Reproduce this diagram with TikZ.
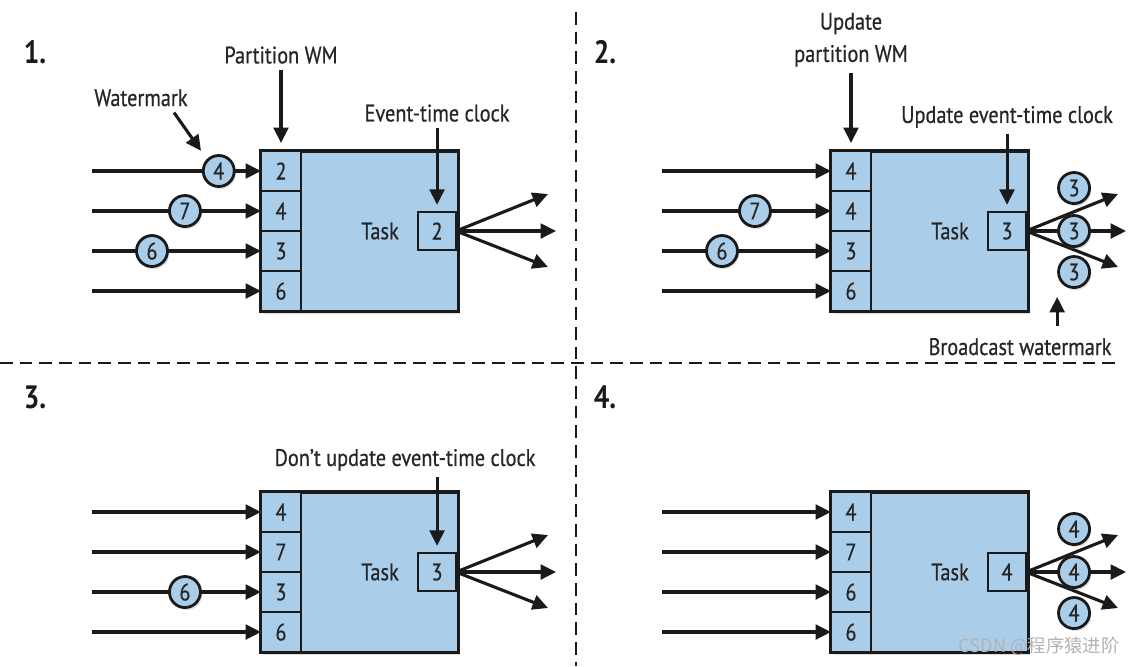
\documentclass[tikz,border=0pt]{standalone}
\usepackage{fontspec}
\setmainfont{PT Sans}[FakeStretch=0.85,UprightFeatures={FakeBold=0.6}]
\newfontfamily\cjk{Noto Sans CJK SC}
\usetikzlibrary{arrows.meta,positioning,calc,shadows}
\definecolor{taskblue}{HTML}{AACDEA}
\definecolor{ink}{HTML}{1A1A1A}
\definecolor{txt}{HTML}{262626}

\begin{document}
\begin{tikzpicture}[x=0.025cm,y=-0.025cm,
  font=\fontsize{17}{23}\selectfont,
  shade/.style={drop shadow={shadow xshift=1.2pt,shadow yshift=-1.8pt,opacity=0.25}},
  taskbox/.style={draw=ink,line width=2.2pt,fill=taskblue,minimum width=4.925cm,minimum height=4cm,outer sep=0pt,shade},
  part/.style={draw=ink,line width=2pt,fill=taskblue,minimum width=1cm,minimum height=1cm,inner sep=0pt,outer sep=0pt,text=txt},
  clockbox/.style={part,minimum width=0.95cm,minimum height=0.95cm},
  wm/.style={circle,draw=ink,line width=2pt,fill=taskblue,minimum size=0.775cm,inner sep=0pt,text=txt,shade},
  lbl/.style={inner sep=0pt,text=txt,align=center},
  num/.style={font=\fontsize{23}{26}\selectfont\bfseries,text=ink},
  flow/.style={draw=ink,line width=2.2pt,-{Triangle[length=11pt,width=10.5pt]}},
  sep/.style={draw=ink,line width=2.1pt,dash pattern=on 9pt off 5pt}]

\useasboundingbox (0,0) rectangle (1140,666);

\draw[sep] (0,363) -- (1118,363);
\draw[sep] (576,12) -- (576,666);

% 1.
\begin{scope}
\node[num] (n1) at (35,52) {1.};
\node[taskbox,anchor=north west] (task) at (261,151) {};
\node[part,below right=0cm and 0cm of task.north west] (p1) {2};
\foreach \v [count=\i from 2] in {4,3,6}{
\pgfmathtruncatemacro\j{\i-1}
\node[part,below=0cm of p\j] (p\i) {\v};
}
\node[clockbox,left=0.05cm of task.east] (clock) {2};
\node[lbl,left=0.475cm of clock] (tl) {Task};

\coordinate (in) at (92,0);
\foreach \i in {1,...,4} \draw[flow] (in |- p\i.west) -- (p\i.west);
\node[wm] (w1) at ($(in |- p1.west)!.75!(p1.west)$) {4};
\node[wm] (w2) at ($(in |- p2.west)!.55!(p2.west)$) {7};
\node[wm] (w3) at ($(in |- p3.west)!.355!(p3.west)$) {6};

\path (clock.east) ++(92,-37) coordinate (o1) ++(8,37) coordinate (o2) ++(-8,36) coordinate (o3);
\foreach \o in {o1,o2,o3} \draw[flow] (clock.east) -- (\o);

\node[lbl,above=2.175cm of p1] (pwm) {Partition WM};
\draw[flow,shorten <=0.15cm,shorten >=0.2cm] (pwm) -- (p1);
\node[lbl,above=2.25cm of clock] (ecl) {Event-time clock};
\draw[flow,shorten <=0.15cm,shorten >=0.18cm] (ecl) -- (clock);
\node[lbl,anchor=base] (wml) at (141,106) {Watermark};
\draw[flow,shorten >=0.25cm] ($(wml.south)+(33,6)$) -- (w1.north west);
\end{scope}

% 2.
\begin{scope}[shift={(570,0)}]
\node[num] (n2) at (35,52) {2.};
\node[taskbox,anchor=north west] (task) at (261,151) {};
\node[part,below right=0cm and 0cm of task.north west] (p1) {4};
\foreach \v [count=\i from 2] in {4,3,6}{
\pgfmathtruncatemacro\j{\i-1}
\node[part,below=0cm of p\j] (p\i) {\v};
}
\node[clockbox,left=0.05cm of task.east] (clock) {3};
\node[lbl,left=0.475cm of clock] (tl) {Task};

\coordinate (in) at (92,0);
\foreach \i in {1,...,4} \draw[flow] (in |- p\i.west) -- (p\i.west);
\node[wm] (w2) at ($(in |- p2.west)!.55!(p2.west)$) {7};
\node[wm] (w3) at ($(in |- p3.west)!.355!(p3.west)$) {6};

\path (clock.east) ++(92,-37) coordinate (o1) ++(8,37) coordinate (o2) ++(-8,36) coordinate (o3);
\foreach \o in {o1,o2,o3} \draw[flow] (clock.east) -- (\o);
\node[wm] (b1) at ($(clock.east)+(48,-43)$) {3};
\node[wm] (b2) at ($(clock.east)+(48,0)$) {3};
\node[wm] (b3) at ($(clock.east)+(48,41)$) {3};

\node[lbl,above=2.1cm of p1] (pwm) {Update\\partition WM};
\draw[flow,shorten <=0.15cm,shorten >=0.2cm] (pwm) -- (p1);
\node[lbl,above=2.1cm of clock] (ecl) {Update event-time clock};
\draw[flow,shorten <=0.15cm,shorten >=0.18cm] (ecl) -- (clock);
\node[lbl,anchor=base] (bc) at (450,355) {Broadcast watermark};
\draw[flow,shorten <=0.3cm,shorten >=0.2cm] (b3.west |- bc.north) -- (b3.west |- b3.south);
\end{scope}

% 3.
\begin{scope}[shift={(0,341)}]
\node[num] (n3) at (35,56) {3.};
\node[taskbox,anchor=north west] (task) at (261,151) {};
\node[part,below right=0cm and 0cm of task.north west] (p1) {4};
\foreach \v [count=\i from 2] in {7,3,6}{
\pgfmathtruncatemacro\j{\i-1}
\node[part,below=0cm of p\j] (p\i) {\v};
}
\node[clockbox,left=0.05cm of task.east] (clock) {3};
\node[lbl,left=0.475cm of clock] (tl) {Task};

\coordinate (in) at (92,0);
\foreach \i in {1,...,4} \draw[flow] (in |- p\i.west) -- (p\i.west);
\node[wm] (w3) at ($(in |- p3.west)!.55!(p3.west)$) {6};

\path (clock.east) ++(92,-37) coordinate (o1) ++(8,37) coordinate (o2) ++(-8,36) coordinate (o3);
\foreach \o in {o1,o2,o3} \draw[flow] (clock.east) -- (\o);

\node[lbl,above=2.05cm of clock,xshift=-0.8cm] (ecl) {Don’t update event-time clock};
\draw[flow,shorten <=0.15cm,shorten >=0.18cm] (ecl.south -| clock) -- (clock);
\end{scope}

% 4.
\begin{scope}[shift={(570,341)}]
\node[num] (n4) at (35,56) {4.};
\node[taskbox,anchor=north west] (task) at (261,151) {};
\node[part,below right=0cm and 0cm of task.north west] (p1) {4};
\foreach \v [count=\i from 2] in {7,6,6}{
\pgfmathtruncatemacro\j{\i-1}
\node[part,below=0cm of p\j] (p\i) {\v};
}
\node[clockbox,left=0.05cm of task.east] (clock) {4};
\node[lbl,left=0.475cm of clock] (tl) {Task};

\coordinate (in) at (92,0);
\foreach \i in {1,...,4} \draw[flow] (in |- p\i.west) -- (p\i.west);

\path (clock.east) ++(92,-37) coordinate (o1) ++(8,37) coordinate (o2) ++(-8,36) coordinate (o3);
\foreach \o in {o1,o2,o3} \draw[flow] (clock.east) -- (\o);
\node[wm] (b1) at ($(clock.east)+(48,-43)$) {4};
\node[wm] (b2) at ($(clock.east)+(48,0)$) {4};
\node[wm] (b3) at ($(clock.east)+(48,41)$) {4};
\end{scope}

\node[anchor=base,text=gray!60,font=\cjk\fontsize{13}{15}\selectfont] (csdn) at (1039,652) {CSDN @程序猿进阶};

\end{tikzpicture}
\end{document}
